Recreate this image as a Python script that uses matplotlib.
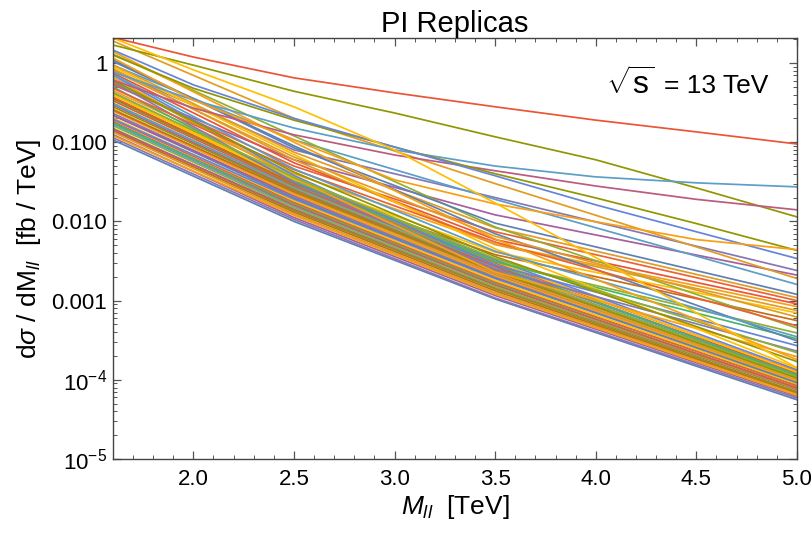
import matplotlib.pyplot as plt
from matplotlib.ticker import LogLocator, NullFormatter, MultipleLocator

plt.rcParams['font.family'] = ['Liberation Sans', 'DejaVu Sans']
plt.rcParams['mathtext.fontset'] = 'custom'
plt.rcParams['mathtext.rm'] = 'Liberation Sans'
plt.rcParams['mathtext.it'] = 'Liberation Sans:italic'

# invariant mass points (TeV)
m_fine = [1.6, 2.0, 2.5, 3.0, 3.5, 4.0, 4.5, 5.0]
m_ll = [1.6, 2.5, 3.5, 5.0]

# the few replicas far from the rest, read at m_fine, dsigma/dM in fb/TeV
lead_replicas = [
    [2.1, 1.19, 0.65, 0.42, 0.28, 0.19, 0.135, 0.095],
    [1.69, 0.94, 0.44, 0.234, 0.117, 0.060, 0.0265, 0.0114],
    [0.77, 0.34, 0.151, 0.080, 0.050, 0.0365, 0.0307, 0.0273],
    [0.61, 0.27, 0.124, 0.069, 0.0436, 0.0280, 0.0190, 0.0140],
    [1.26, 0.48, 0.19, 0.087, 0.040, 0.0198, 0.0094, 0.0043],
    [1.46, 0.53, 0.20, 0.087, 0.0377, 0.0162, 0.0074, 0.0034],
    [1.16, 0.34, 0.107, 0.0335, 0.0166, 0.0099, 0.0059, 0.0044],
    [2.07, 0.82, 0.28, 0.080, 0.0171, 0.0035, 0.00070, 0.000142],
]

# middle replicas, read at m_ll
upper_replicas = [
    [0.82, 0.080, 0.020, 0.0024],
    [0.53, 0.060, 0.0121, 0.0021],
    [0.94, 0.107, 0.019, 0.0016],
    [0.95, 0.075, 0.0083, 0.00109],
    [0.55, 0.050, 0.0074, 0.00100],
    [0.75, 0.055, 0.0059, 0.00091],
    [0.45, 0.040, 0.0052, 0.00084],
    [0.85, 0.060, 0.0051, 0.00075],
    [0.40, 0.034, 0.0041, 0.00070],
    [0.36, 0.030, 0.0038, 0.00056],
    [0.62, 0.036, 0.0031, 0.00039],
    [0.50, 0.032, 0.0031, 0.00033],
    [0.70, 0.038, 0.0028, 0.00027],
    [0.58, 0.031, 0.0025, 0.00023],
    [0.66, 0.035, 0.0023, 0.000196],
    [1.30, 0.12, 0.0085, 0.00045],
    [1.05, 0.090, 0.0070, 0.00031],
    [0.90, 0.070, 0.0045, 0.00014],
    [1.9, 0.20, 0.030, 0.0019],
    [1.10, 0.085, 0.0095, 0.0012],
    [0.80, 0.065, 0.0065, 0.00062],
    [0.48, 0.045, 0.0055, 0.00048],
    [0.72, 0.046, 0.0042, 0.00035],
    [0.42, 0.036, 0.0034, 0.00022],
    [1.40, 0.10, 0.0060, 0.00018],
    [0.60, 0.042, 0.0036, 0.00017],
]

# the dense lower band of replicas, read at m_ll
band_replicas = [
    [0.107, 0.0100, 0.00105, 5.6e-5],
    [0.114, 0.0106, 0.00108, 5.9e-5],
    [0.125, 0.0112, 0.00116, 6.2e-5],
    [0.121, 0.0119, 0.00121, 6.4e-5],
    [0.134, 0.0124, 0.00126, 6.7e-5],
    [0.141, 0.0131, 0.00133, 6.9e-5],
    [0.150, 0.0137, 0.00140, 7.1e-5],
    [0.146, 0.0143, 0.00146, 7.5e-5],
    [0.162, 0.0149, 0.00149, 7.7e-5],
    [0.170, 0.0156, 0.00157, 8.0e-5],
    [0.181, 0.0162, 0.00159, 7.9e-5],
    [0.176, 0.0169, 0.00166, 8.5e-5],
    [0.192, 0.0175, 0.00172, 8.4e-5],
    [0.203, 0.0183, 0.00180, 8.9e-5],
    [0.196, 0.0191, 0.00190, 9.5e-5],
    [0.220, 0.0198, 0.00195, 9.2e-5],
    [0.232, 0.0207, 0.00201, 9.9e-5],
    [0.218, 0.0213, 0.00212, 1.03e-4],
    [0.248, 0.0219, 0.00207, 9.7e-5],
    [0.262, 0.0228, 0.00221, 1.01e-4],
    [0.256, 0.0237, 0.00231, 1.08e-4],
    [0.280, 0.0246, 0.00236, 1.06e-4],
    [0.296, 0.0255, 0.00246, 1.14e-4],
    [0.312, 0.0264, 0.00252, 1.10e-4],
    [0.305, 0.0274, 0.00265, 1.18e-4],
    [0.335, 0.0284, 0.00272, 1.22e-4],
    [0.352, 0.0296, 0.00284, 1.15e-4],
    [0.372, 0.0308, 0.00298, 1.28e-4],
    [0.395, 0.0322, 0.00312, 1.25e-4],
    [0.425, 0.0338, 0.00328, 1.34e-4],
]

y_ticks = [1e-5, 1e-4, 1e-3, 1e-2, 1e-1, 1]
y_ticklabels = ['$10^{-5}$', '$10^{-4}$', '0.001', '0.010', '0.100', '1']

# Mathematica default palette
palette = ['#5E81B5', '#E19C24', '#8FB032', '#EB6235', '#8778B3',
           '#C56E1A', '#5D9EC7', '#FFBF00', '#A5609D', '#929600',
           '#E95536', '#6685D9', '#F89F13', '#BC5B80', '#47B66D']
lead_colors = ['#E95536', '#929600', '#5D9EC7', '#BC5B80', '#929600',
               '#6685D9', '#F89F13', '#FFBF00']
upper_colors = ['#8778B3', '#A5609D', '#5D9EC7', '#E19C24', '#EB6235',
                '#E95536', '#F89F13', '#E19C24', '#FFBF00', '#C56E1A',
                '#8FB032', '#47B66D', '#6685D9', '#8778B3', '#F89F13',
                '#8FB032', '#5E81B5', '#FFBF00', '#E19C24', '#5E81B5',
                '#E19C24', '#EB6235', '#5D9EC7', '#8FB032', '#F89F13',
                '#929600']

fig = plt.figure(figsize=(8.12, 5.35), dpi=100)
ax = fig.add_axes([0.139, 0.142, 0.8425, 0.787])

lw = 1.25
for i, row in enumerate(band_replicas):
    ax.plot(m_ll, row, color=palette[(i * 4) % len(palette)], lw=lw)
for row, c in zip(upper_replicas, upper_colors):
    ax.plot(m_ll, row, color=c, lw=lw)
for row, c in zip(lead_replicas, lead_colors):
    ax.plot(m_fine, row, color=c, lw=lw)

ax.set_yscale('log')
ax.set_xlim(1.6, 5.0)
ax.set_ylim(1e-5, 2.07)
ax.set_yticks(y_ticks)
ax.set_yticklabels(y_ticklabels)
ax.yaxis.set_minor_locator(LogLocator(base=10, subs=range(2, 10), numticks=20))
ax.yaxis.set_minor_formatter(NullFormatter())
ax.xaxis.set_major_locator(MultipleLocator(0.5))
ax.xaxis.set_minor_locator(MultipleLocator(0.1))
ax.xaxis.set_major_formatter(plt.FormatStrFormatter('%.1f'))

ax.tick_params(which='both', direction='in', top=True, right=True,
               color='#555555', labelsize=16)
ax.tick_params(which='major', length=6, width=0.9)
ax.tick_params(which='minor', length=3, width=0.7)
ax.tick_params(axis='x', pad=7)
ax.tick_params(axis='y', pad=4)
for s in ax.spines.values():
    s.set_color('#444444')
    s.set_linewidth(1.0)

ax.set_title('PI Replicas', fontsize=21, pad=4)
ax.set_xlabel(r'$M_{ll}$  [TeV]', fontsize=19, labelpad=2)
ax.set_ylabel(r'd$\sigma$ / dM$_{\mathit{ll}}$  [fb / TeV]', fontsize=19,
              labelpad=6)

# sqrt(s) label
ax.text(0.721, 0.888, r'$\sqrt{\mathrm{s}}$', transform=ax.transAxes,
        fontsize=23, ha='left', va='center')
ax.text(0.806, 0.886, '= 13 TeV', transform=ax.transAxes,
        fontsize=19, ha='left', va='center')

fig.savefig('out.png', dpi=100)
